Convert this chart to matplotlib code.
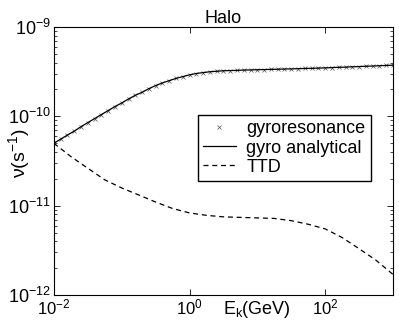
import matplotlib
matplotlib.use("Agg")
import matplotlib.pyplot as plt
import numpy as np
from matplotlib.ticker import LogLocator, NullLocator, FixedLocator

plt.rcParams['font.family'] = ['Liberation Sans', 'DejaVu Sans']
plt.rcParams['mathtext.fontset'] = 'custom'
plt.rcParams['mathtext.rm'] = 'Liberation Sans'
plt.rcParams['mathtext.it'] = 'Liberation Sans'

# kinetic energy grid (GeV), 10 points per decade
energy = [0.01, 0.0126, 0.0158, 0.02, 0.0251, 0.0316, 0.0398, 0.0501, 0.0631, 0.0794,
          0.1, 0.126, 0.158, 0.2, 0.251, 0.316, 0.398, 0.501, 0.631, 0.794,
          1.0, 1.26, 1.58, 2.0, 2.51, 3.16, 3.98, 5.01, 6.31, 7.94,
          10.0, 12.6, 15.8, 20.0, 25.1, 31.6, 39.8, 50.1, 63.1, 79.4,
          100.0, 126.0, 158.0, 200.0, 251.0, 316.0, 398.0, 501.0, 631.0, 794.0,
          1000.0]

gyro = [5.01e-11, 5.56e-11, 6.17e-11, 6.84e-11, 7.67e-11, 8.51e-11, 9.44e-11, 1.047e-10, 1.161e-10, 1.288e-10,
        1.413e-10, 1.567e-10, 1.718e-10, 1.862e-10, 2.042e-10, 2.213e-10, 2.371e-10, 2.512e-10, 2.661e-10, 2.786e-10,
        2.917e-10, 3.02e-10, 3.09e-10, 3.16e-10, 3.20e-10, 3.24e-10, 3.26e-10, 3.27e-10, 3.30e-10, 3.31e-10,
        3.33e-10, 3.34e-10, 3.36e-10, 3.37e-10, 3.39e-10, 3.40e-10, 3.42e-10, 3.44e-10, 3.45e-10, 3.47e-10,
        3.49e-10, 3.52e-10, 3.54e-10, 3.56e-10, 3.59e-10, 3.61e-10, 3.64e-10, 3.66e-10, 3.69e-10, 3.72e-10,
        3.74e-10]

# TTD, 4 points per decade
energy_ttd = [0.01, 0.0178, 0.0316, 0.0562, 0.1, 0.178, 0.316, 0.562, 1.0, 1.78, 3.16,
              5.62, 10.0, 17.8, 31.6, 56.2, 100.0, 178.0, 316.0, 562.0, 1000.0]
ttd = [5.0e-11, 3.55e-11, 2.63e-11, 1.95e-11, 1.58e-11, 1.32e-11, 1.10e-11, 9.3e-12, 8.3e-12, 7.8e-12, 7.5e-12,
       7.4e-12, 7.3e-12, 7.2e-12, 6.8e-12, 6.2e-12, 5.5e-12, 4.4e-12, 3.3e-12, 2.45e-12, 1.7e-12]

fig = plt.figure(figsize=(3.99, 3.30), dpi=100)
ax = fig.add_axes([0.135, 0.106, 0.85, 0.812])

ax.loglog(energy, gyro, linestyle='none', marker='x', markersize=3, markeredgewidth=0.5,
          color='#555555', label='gyroresonance')
ax.loglog(energy, gyro, '-', color='black', linewidth=0.9, label='gyro analytical')
ax.loglog(energy_ttd, ttd, '--', color='black', linewidth=0.9, dashes=(4, 3), label='TTD')

ax.set_xlim(1e-2, 1e3)
ax.set_ylim(1e-12, 1e-9)
ax.xaxis.set_major_locator(FixedLocator([1e-2, 1, 1e2]))
ax.xaxis.set_minor_locator(NullLocator())
ax.yaxis.set_major_locator(LogLocator(base=10))
ax.yaxis.set_minor_locator(LogLocator(base=10, subs=np.arange(2, 10)))
ax.tick_params(which='both', direction='in', top=True, right=True)
ax.tick_params(which='major', length=4, width=0.6)
ax.tick_params(which='minor', length=2.5, width=0.5)
ax.tick_params(axis='x', pad=1.5, labelsize=12)
ax.tick_params(axis='y', pad=2, labelsize=13)
for s in ax.spines.values():
    s.set_linewidth(0.8)

ax.set_title('Halo', fontsize=13, pad=3)
ax.set_xlabel(r'E$_\mathrm{k}$(GeV)', fontsize=13)
ax.xaxis.set_label_coords(0.60, -0.015)
ax.set_ylabel(r'$\nu$(s$^{-1}$)', fontsize=14)
ax.yaxis.set_label_coords(-0.063, 0.53)

ax.legend(loc='upper right', bbox_to_anchor=(0.935, 0.672), fontsize=13, fancybox=False,
          edgecolor='black', framealpha=1, handlelength=1.8, handletextpad=0.6,
          labelspacing=0.12, borderpad=0.3, borderaxespad=0)

fig.savefig('out.png', dpi=100)
